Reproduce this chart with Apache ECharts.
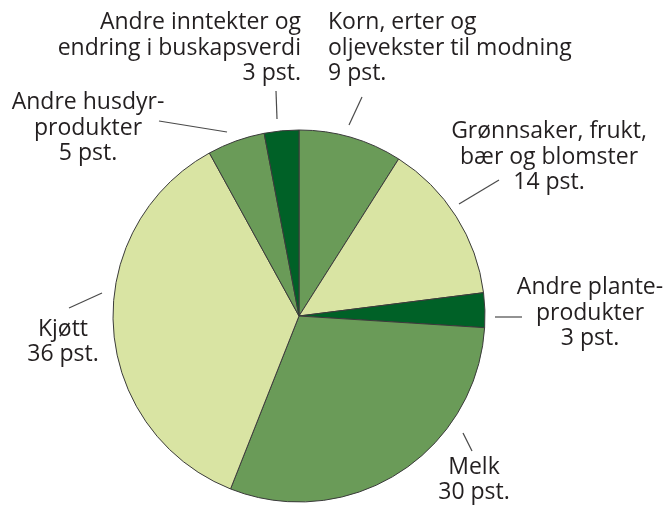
<!DOCTYPE html>
<html>
<head>
<meta charset="utf-8">
<script src="https://cdn.jsdelivr.net/npm/echarts@6/dist/echarts.min.js"></script>
<style>
  html, body { margin: 0; padding: 0; background: #fff; }
  #chart { width: 667px; height: 512px; }
</style>
</head>
<body>
<div id="chart"></div>
<script>
// sektorer, med klokka fra toppen
const categories = [
  'Korn, erter og\noljevekster til modning',
  'Grønnsaker, frukt,\nbær og blomster',
  'Andre plante-\nprodukter',
  'Melk',
  'Kjøtt',
  'Andre husdyr-\nprodukter',
  'Andre inntekter og\nendring i buskapsverdi'
]
const shares = [9, 14, 3, 30, 36, 5, 3]
const unit = 'pst.'

const colors = ['#6a9b58', '#d9e4a3', '#006127', '#6a9b58', '#d9e4a3', '#6a9b58', '#006127']

// plassering av etikett og strek for hver sektor
const labelPos = [
  { x: 328, y: 48, align: 'left', line: [[362, 97], [349, 125]] },
  { x: 549, y: 157, align: 'center', line: [[499, 180], [459, 204]] },
  { x: 590, y: 313, align: 'center', line: [[495, 317], [522, 317]] },
  { x: 474, y: 480, align: 'center', line: [[463, 433], [472, 451]] },
  { x: 63, y: 342, align: 'center', line: [[102, 293], [69, 308]] },
  { x: 88, y: 128, align: 'center', line: [[159, 121], [227, 132]] },
  { x: 301, y: 48, align: 'right', line: [[276, 91], [277, 119]] }
]

const chart = echarts.init(document.getElementById('chart'))

const option = {
  animation: false,
  series: [
    {
      type: 'pie',
      center: [299, 316],
      radius: 186,
      startAngle: 90,
      clockwise: true,
      data: categories.map((name, i) => ({
        name: name,
        value: shares[i],
        itemStyle: { color: colors[i] },
        label: { align: labelPos[i].align }
      })),
      itemStyle: {
        borderColor: '#3b3b3b',
        borderWidth: 1
      },
      label: {
        show: true,
        position: 'outside',
        formatter: p => p.name + '\n' + p.value + ' ' + unit,
        fontFamily: 'Open Sans',
        fontSize: 23,
        lineHeight: 25.5,
        overflow: 'none',
        color: '#231f20'
      },
      labelLine: {
        show: true,
        lineStyle: { color: '#4a4a4a', width: 1.2 }
      },
      labelLayout: params => {
        const p = labelPos[params.dataIndex]
        return {
          x: p.x,
          y: p.y,
          align: p.align,
          verticalAlign: 'middle',
          labelLinePoints: p.line
        }
      }
    }
  ]
}

chart.setOption(option)
</script>
</body>
</html>
